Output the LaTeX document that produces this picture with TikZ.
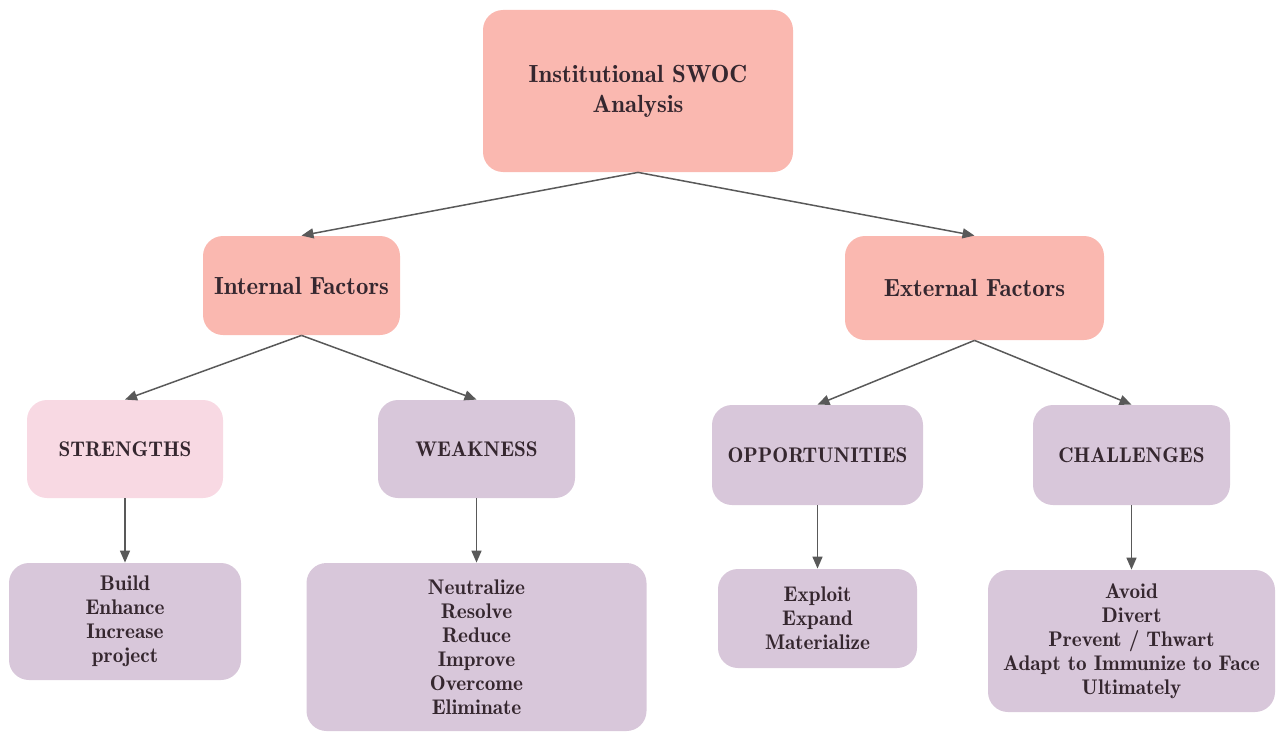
\documentclass[tikz,border=0pt]{standalone}
\usepackage{tikz}
\usetikzlibrary{arrows.meta, positioning}

\definecolor{salmon}{HTML}{FAB8B0}
\definecolor{blush}{HTML}{F8D9E3}
\definecolor{lilac}{HTML}{D8C7DA}
\definecolor{ink}{HTML}{35272F}
\definecolor{wire}{HTML}{595959}

\begin{document}
\begin{tikzpicture}[x=0.5pt, y=-0.5pt,
    box/.style={rounded corners=10pt, inner sep=0pt, align=center, text=ink,
        font=\fontseries{b}\fontsize{10.6}{12}\selectfont},
    head/.style={box, fill=salmon, font=\fontseries{b}\fontsize{12.4}{15}\selectfont},
    link/.style={draw=wire, line width=0.75pt, -{Triangle[length=6pt, width=5pt]}}]
    \useasboundingbox (0,0) rectangle (1277,733);

    % root and factors
    \node[head, minimum width=155pt, minimum height=81pt] (swoc) at (638,91)
        {Institutional SWOC\\Analysis};
    \node[head, minimum width=98.5pt, minimum height=49.5pt] (internal) at (301.5,285.5)
        {Internal Factors};
    \node[head, minimum width=129.5pt, minimum height=52pt] (external) at (974.5,288)
        {External Factors};

    % quadrants
    \node[box, fill=blush, minimum width=98pt, minimum height=49pt] (strengths) at (125,449) {STRENGTHS};
    \node[box, fill=lilac, minimum width=98.5pt, minimum height=49pt] (weakness) at (476.5,449) {WEAKNESS};
    \node[box, fill=lilac, minimum width=105.5pt, minimum height=50pt] (opportunities) at (817.5,455) {OPPORTUNITIES};
    \node[box, fill=lilac, minimum width=98.5pt, minimum height=50pt] (challenges) at (1131.5,455) {CHALLENGES};

    % actions
    \node[box, fill=lilac, minimum width=116pt, minimum height=58.5pt] (build) at (125,621.5)
        {Build\\Enhance\\Increase\\project};
    \node[box, fill=lilac, minimum width=170pt, minimum height=84pt] (neutralize) at (476.5,647)
        {Neutralize\\Resolve\\Reduce\\Improve\\Overcome\\Eliminate};
    \node[box, fill=lilac, minimum width=99.5pt, minimum height=49.5pt] (exploit) at (817.5,618.5)
        {Exploit\\Expand\\Materialize};
    \node[box, fill=lilac, minimum width=143.5pt, minimum height=71pt] (avoid) at (1131.5,641)
        {Avoid\\Divert\\Prevent / Thwart\\Adapt to Immunize to Face\\Ultimately};

    \draw[link] (swoc.south) -- (internal.north);
    \draw[link] (swoc.south) -- (external.north);
    \draw[link] (internal.south) -- (strengths.north);
    \draw[link] (internal.south) -- (weakness.north);
    \draw[link] (external.south) -- (opportunities.north);
    \draw[link] (external.south) -- (challenges.north);
    \draw[link] (strengths.south) -- (build.north);
    \draw[link] (weakness.south) -- (neutralize.north);
    \draw[link] (opportunities.south) -- (exploit.north);
    \draw[link] (challenges.south) -- (avoid.north);
\end{tikzpicture}
\end{document}
